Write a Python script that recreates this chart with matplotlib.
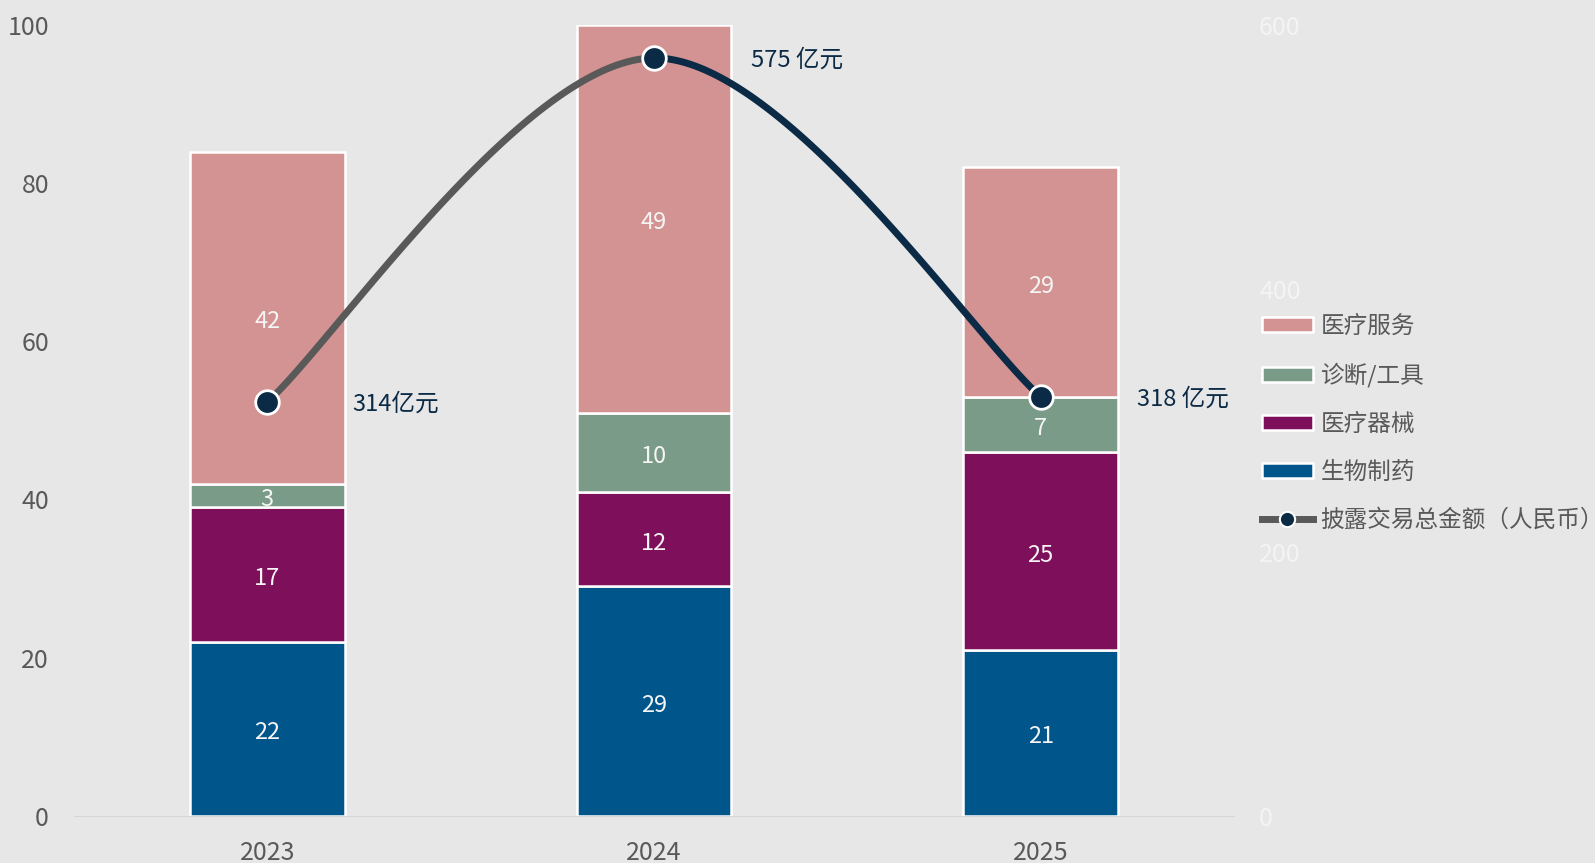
import matplotlib
matplotlib.use('Agg')
import matplotlib.pyplot as plt
import numpy as np
from matplotlib.lines import Line2D
from matplotlib.patches import Patch

plt.rcParams['font.family'] = ['Noto Sans CJK SC', 'DejaVu Sans']

years = ['2023', '2024', '2025']
series = ['生物制药', '医疗器械', '诊断/工具', '医疗服务']
biopharma = [22, 29, 21]
devices = [17, 12, 25]
diagnostics = [3, 10, 7]
services = [42, 49, 29]
totals = [314, 575, 318]
total_labels = ['314亿元', '575 亿元', '318 亿元']
line_label = '披露交易总金额（人民币）'

colors = ['#00558b', '#7e0f5b', '#7a9b87', '#d49393']
bg = '#e7e7e7'
navy = '#0b2a45'
gray = '#595959'


def bezier_segments(x, y):
    # excel-like smoothing: cubic bezier with catmull-rom control points
    x = np.asarray(x, float)
    y = np.asarray(y, float)
    n = len(x)
    segs = []
    t = np.linspace(0, 1, 100)[:, None]
    for i in range(n - 1):
        p0 = np.array([x[i], y[i]])
        p3 = np.array([x[i + 1], y[i + 1]])
        pm = np.array([x[i - 1], y[i - 1]]) if i > 0 else p0
        pp = np.array([x[i + 2], y[i + 2]]) if i + 2 < n else p3
        c1 = p0 + (p3 - pm) / 6
        c2 = p3 - (pp - p0) / 6
        pts = (1 - t) ** 3 * p0 + 3 * (1 - t) ** 2 * t * c1 + 3 * (1 - t) * t ** 2 * c2 + t ** 3 * p3
        segs.append(pts)
    return segs


fig = plt.figure(figsize=(15.95, 8.63), dpi=100, facecolor=bg)
ax = fig.add_axes([0.0464, 0.0547, 0.7273, 0.9163])
ax.set_facecolor(bg)
x = np.arange(len(years))

data = [biopharma, devices, diagnostics, services]
bottom = np.zeros(len(years))
for vals, c in zip(data, colors):
    vals = np.array(vals, float)
    ax.bar(x, vals, width=0.4, bottom=bottom, color=c, edgecolor='white', linewidth=1.8, zorder=2)
    for xi, b, v in zip(x, bottom, vals):
        ax.annotate(f'{int(v)}', (xi, b + v / 2), xytext=(0, -3), textcoords='offset points',
                    ha='center', va='center', color='#f5f5f5', fontsize=17, zorder=3)
    bottom += vals

ax.set_xlim(-0.5, 2.5)
ax.set_ylim(0, 100)
ax.set_yticks(np.arange(0, 101, 20))
ax.set_xticks(x)
ax.set_xticklabels(years)
for s in ['top', 'right', 'left']:
    ax.spines[s].set_visible(False)
ax.spines['bottom'].set_color('#d6d6d6')
ax.tick_params(axis='both', length=0, colors=gray, labelsize=18)
ax.tick_params(axis='y', pad=18)
ax.tick_params(axis='x', pad=17.5)

ax2 = ax.twinx()
ax2.set_ylim(0, 600)
ax2.set_yticks([0, 200, 400, 600])
for s in ax2.spines.values():
    s.set_visible(False)
ax2.tick_params(axis='y', length=0, colors='#f4f4f4', labelsize=18, pad=18)

segs = bezier_segments(x, totals)
seg_colors = [gray, navy]
for pts, c in zip(segs, seg_colors):
    ax2.plot(pts[:, 0], pts[:, 1], color=c, linewidth=5, solid_capstyle='round', zorder=4)
ax2.plot(x, totals, linestyle='none', marker='o', markersize=17, markerfacecolor=navy,
         markeredgecolor='white', markeredgewidth=2, zorder=5)
offsets = [0.22, 0.25, 0.25]
for xi, v, lab, off in zip(x, totals, total_labels, offsets):
    ax2.annotate(lab, (xi + off, v), xytext=(0, -1.5), textcoords='offset points',
                 ha='left', va='center', color=navy, fontsize=17, zorder=6)

handles = [Patch(facecolor=c, edgecolor='white', linewidth=1.8) for c in colors[::-1]]
handles.append(Line2D([0], [0], color=gray, linewidth=5, marker='o', markersize=11,
                      markerfacecolor=navy, markeredgecolor='white', markeredgewidth=1.5))
labels = series[::-1] + [line_label]
leg = fig.legend(handles, labels, loc='upper left', bbox_to_anchor=(0.785, 0.646),
                 frameon=False, fontsize=17, labelcolor=gray, handlelength=2.2,
                 handleheight=0.6, handletextpad=0.3, labelspacing=1.06, borderaxespad=0)

fig.savefig('out.png', dpi=100, facecolor=bg)
